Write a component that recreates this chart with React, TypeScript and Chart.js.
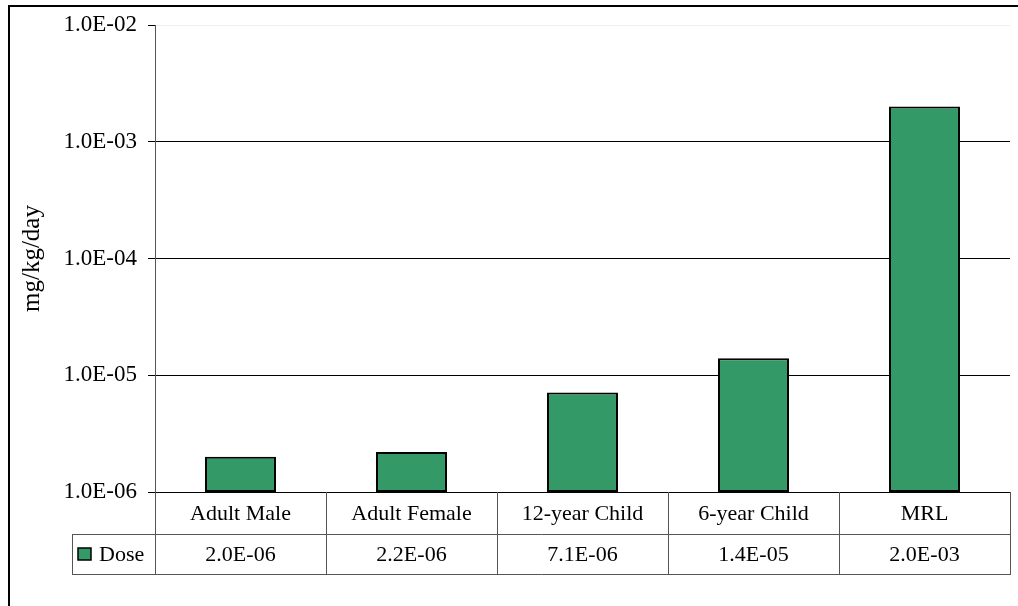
import React, { useEffect, useRef } from "react";
import { Chart, registerables } from "chart.js";

Chart.register(...registerables);

const categories = ["Adult Male", "Adult Female", "12-year Child", "6-year Child", "MRL"];
const doseValues = [2.0e-6, 2.2e-6, 7.1e-6, 1.4e-5, 2.0e-3];
const seriesName = "Dose";
const yTickValues = [1e-6, 1e-5, 1e-4, 1e-3, 1e-2];
const yTickLabels = ["1.0E-06", "1.0E-05", "1.0E-04", "1.0E-03", "1.0E-02"];
const yTitle = "mg/kg/day";

const FONT = "'Liberation Serif', 'Times New Roman', serif";
const GREEN = "#339966";
const LINE = "#555555";

function fmtExp(v: number): string {
  let e = Math.floor(Math.log10(v));
  let m = v / Math.pow(10, e);
  if (Math.round(m * 10) / 10 >= 10) {
    m = m / 10;
    e += 1;
  }
  const sign = e < 0 ? "-" : "+";
  const ae = Math.abs(e);
  return m.toFixed(1) + "E" + sign + (ae < 10 ? "0" + ae : String(ae));
}

const tablePlugin = {
  id: "dataTable",
  afterDraw(chart: any) {
    const ctx = chart.ctx as CanvasRenderingContext2D;
    const xs = chart.scales.x;
    const area = chart.chartArea;
    const n = chart.data.labels.length;
    const colW = (xs.right - xs.left) / n;
    const row1Top = area.bottom;
    const row1Bot = row1Top + 42;
    const row2Bot = row1Bot + 40;
    const legendLeft = 72;
    ctx.save();
    // frame
    ctx.fillStyle = "#000";
    ctx.fillRect(8, 5, chart.width, 2);
    ctx.fillRect(8, 5, 2, chart.height);

    ctx.strokeStyle = LINE;
    ctx.lineWidth = 1;
    const hl = (x1: number, x2: number, y: number) => {
      ctx.beginPath();
      ctx.moveTo(x1, Math.round(y) + 0.5);
      ctx.lineTo(x2, Math.round(y) + 0.5);
      ctx.stroke();
    };
    const vl = (x: number, y1: number, y2: number) => {
      ctx.beginPath();
      ctx.moveTo(Math.round(x) + 0.5, y1);
      ctx.lineTo(Math.round(x) + 0.5, y2);
      ctx.stroke();
    };
    hl(legendLeft, xs.right + 1, row1Bot);
    hl(legendLeft, xs.right + 1, row2Bot);
    vl(legendLeft, row1Bot, row2Bot + 1);
    vl(xs.left, row1Top, row2Bot + 1);
    for (let i = 1; i <= n; i++) {
      vl(xs.left + colW * i, row1Top, row2Bot + 1);
    }

    ctx.fillStyle = "#000";
    ctx.font = "22px " + FONT;
    ctx.textAlign = "center";
    ctx.textBaseline = "middle";
    const data = chart.data.datasets[0].data as number[];
    for (let i = 0; i < n; i++) {
      const cx = xs.getPixelForValue(i);
      ctx.fillText(String(chart.data.labels[i]), cx, (row1Top + row1Bot) / 2 + 1);
      ctx.fillText(fmtExp(data[i]), cx, (row1Bot + row2Bot) / 2 + 1);
    }
    // legend key
    const ly = (row1Bot + row2Bot) / 2;
    ctx.fillStyle = chart.data.datasets[0].backgroundColor;
    ctx.fillRect(78, ly - 6, 13, 12);
    ctx.strokeStyle = "#000";
    ctx.lineWidth = 1.5;
    ctx.strokeRect(78, ly - 6, 13, 12);
    ctx.fillStyle = "#000";
    ctx.textAlign = "left";
    ctx.fillText(chart.data.datasets[0].label, 99, ly + 1);
    ctx.restore();
  },
};

export default function App() {
  const ref = useRef<HTMLCanvasElement>(null);
  useEffect(() => {
    if (!ref.current) return;
    const chart = new Chart(ref.current, {
      type: "bar",
      data: {
        labels: categories,
        datasets: [
          {
            label: seriesName,
            data: doseValues,
            backgroundColor: GREEN,
            borderColor: "#000",
            borderWidth: 2,
            borderSkipped: false,
            categoryPercentage: 1,
            barPercentage: 0.415,
          },
        ],
      },
      options: {
        responsive: false,
        animation: false,
        layout: { padding: { left: 0, top: 25, right: 8, bottom: 0 } },
        plugins: {
          legend: { display: false },
          tooltip: { enabled: false },
        },
        scales: {
          x: {
            type: "category",
            offset: true,
            grid: { display: false },
            border: { display: false },
            ticks: { display: false },
            afterFit: (s: any) => {
              s.height = 114;
            },
          },
          y: {
            type: "logarithmic",
            min: 1e-6,
            max: 1e-2,
            afterBuildTicks: (s: any) => {
              s.ticks = yTickValues.map((v) => ({ value: v }));
            },
            afterFit: (s: any) => {
              s.width = 155;
            },
            ticks: {
              color: "#000",
              font: { family: FONT, size: 23 },
              padding: 11,
              callback: (v: any) => {
                const i = yTickValues.findIndex((t) => Math.abs(t - v) / t < 1e-6);
                return i >= 0 ? yTickLabels[i] : "";
              },
            },
            grid: {
              color: (c: any) => (c.tick && c.tick.value >= 1e-2 * 0.999 ? "#eeeeee" : "#000000"),
              tickColor: "#000",
              tickLength: 7,
              lineWidth: 1,
            },
            border: { display: true, color: LINE, width: 1 },
            title: {
              display: true,
              text: yTitle,
              color: "#000",
              font: { family: FONT, size: 25 },
              padding: { top: 17, bottom: 0 },
            },
          },
        },
      },
      plugins: [tablePlugin],
    });
    return () => chart.destroy();
  }, []);
  return (
    <div style={{ position: "fixed", left: 0, top: 0, width: 1018, height: 606, background: "#fff" }}>
      <canvas ref={ref} width={1018} height={606} style={{ display: "block" }} />
    </div>
  );
}
